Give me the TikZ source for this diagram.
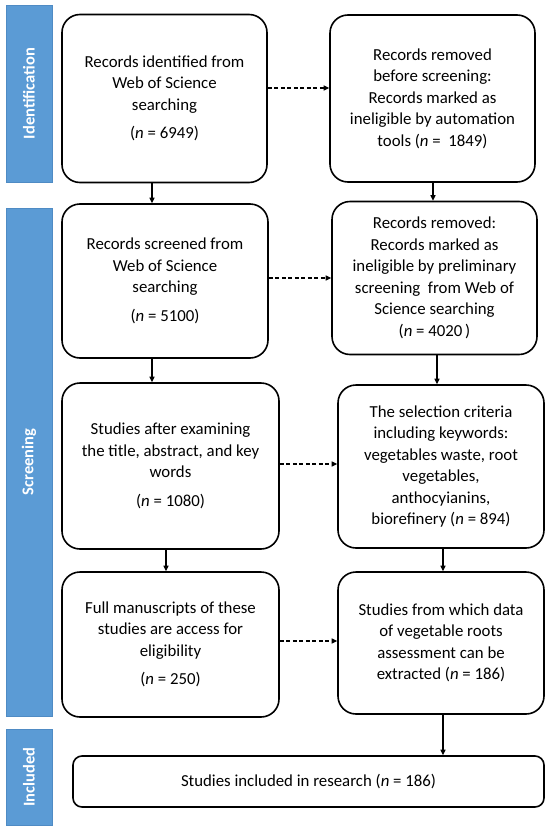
\documentclass[tikz,border=0pt]{standalone}
\usepackage{fontspec}
\setmainfont{Carlito}
\usetikzlibrary{arrows.meta}
\definecolor{bandblue}{HTML}{5B9BD5}
\definecolor{bandedge}{HTML}{4F8BC4}
\begin{document}
\begin{tikzpicture}[x=1pt,y=-1pt,
  box/.style={draw=black, line width=1.6pt, rounded corners=18pt, fill=white,
    align=center, font=\fontsize{16.8}{21.5}\selectfont, inner sep=0pt},
  band/.style={draw=bandedge, line width=0.6pt, fill=bandblue, minimum width=46pt,
    inner sep=0pt, text=white, font=\fontsize{16.5}{18}\selectfont\bfseries},
  solidarrow/.style={line width=1.1pt, -{Triangle[length=5.5pt,width=5pt]}},
  dasharrow/.style={line width=1.1pt, dash pattern=on 4pt off 2.5pt, -{Triangle[length=5.5pt,width=5pt]}}
]
\useasboundingbox (0,0) rectangle (550,830);

% phase bands
\node[band, minimum height=177pt] (bid) at (29,93.5) {\rotatebox{90}{Identification}};
\node[band, minimum height=508pt] (bsc) at (29,462) {\rotatebox{90}{Screening}};
\node[band, minimum height=96pt] (bin) at (29,777) {\rotatebox{90}{Included}};

% boxes
\node[box, minimum width=205pt, minimum height=168pt] (A) at (164.5,98.5)
  {Records identified from\\Web of Science\\searching\\[7pt](\textit{n} = 6949)};
\node[box, minimum width=205pt, minimum height=167pt] (B) at (432.5,98.5)
  {Records removed\\before screening:\\Records marked as\\ineligible by automation\\tools (\textit{n} =\ \ 1849)};
\node[box, minimum width=206pt, minimum height=154pt] (C) at (165,281)
  {Records screened from\\Web of Science\\searching\\[7pt](\textit{n} = 5100)};
\node[box, minimum width=205pt, minimum height=153pt] (D) at (434.5,278)
  {Records removed:\\Records marked as\\ineligible by preliminary\\screening\ \ from Web of\\Science searching\\(\textit{n} = 4020\,)};
\node[box, minimum width=217pt, minimum height=166pt] (E) at (170.5,466)
  {Studies after examining\\the title, abstract, and key\\words\\[7pt](\textit{n} = 1080)};
\node[box, minimum width=206pt, minimum height=163pt] (F) at (441,466.5)
  {The selection criteria\\including keywords:\\vegetables waste, root\\vegetables,\\anthocyianins,\\biorefinery (\textit{n} = 894)};
\node[box, minimum width=217pt, minimum height=145pt] (G) at (170.5,644.5)
  {Full manuscripts of these\\studies are access for\\eligibility\\[7pt](\textit{n} = 250)};
\node[box, minimum width=206pt, minimum height=142pt] (H) at (441,643)
  {Studies from which data\\of vegetable roots\\assessment can be\\extracted (\textit{n} = 186)};
\node[box, rounded corners=9pt, minimum width=471pt, minimum height=51pt] (I) at (308.5,781.5)
  {Studies included in research (\textit{n} = 186)};

% x positions of vertical connectors
\coordinate (xl1) at (152,0);
\coordinate (xr1) at (433,0);
\coordinate (xl2) at (166,0);
\coordinate (xr2) at (437,0);
\coordinate (xr3) at (443,0);

% vertical arrows
\draw[solidarrow] (A.south -| xl1) -- (C.north -| xl1);
\draw[solidarrow] (B.south -| xr1) -- (D.north -| xr1);
\draw[solidarrow] (C.south -| xl1) -- (E.north -| xl1);
\draw[solidarrow] (D.south -| xr2) -- (F.north -| xr2);
\draw[solidarrow] (E.south -| xl2) -- (G.north -| xl2);
\draw[solidarrow] (F.south -| xr3) -- (H.north -| xr3);
\draw[solidarrow] (H.south -| xr3) -- (I.north -| xr3);

% dashed arrows
\coordinate (y1) at (0,88);
\coordinate (y2) at (0,278);
\coordinate (y3) at (0,464);
\coordinate (y4) at (0,641);
\draw[dasharrow] (A.east |- y1) -- (B.west |- y1);
\draw[dasharrow] (C.east |- y2) -- (D.west |- y2);
\draw[dasharrow] (E.east |- y3) -- (F.west |- y3);
\draw[dasharrow] (G.east |- y4) -- (H.west |- y4);
\end{tikzpicture}
\end{document}
